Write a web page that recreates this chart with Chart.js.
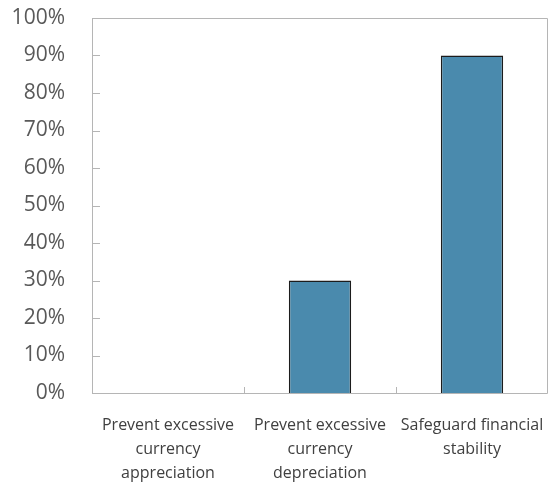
<!DOCTYPE html>
<html lang="en">
<head>
  <meta charset="UTF-8">
  <title>Policy objectives</title>
  <script src="https://cdn.jsdelivr.net/npm/chart.js"></script>
  <style>
    * { margin: 0; padding: 0; box-sizing: border-box; }
    body { background: #fff; width: 549px; height: 482px; overflow: hidden; }
    .wrap { width: 549px; height: 482px; }
  </style>
</head>
<body>
  <div class="wrap"><canvas id="chart" width="549" height="482"></canvas></div>

  <script>
    const categories = [
      ['Prevent excessive', 'currency', 'appreciation'],
      ['Prevent excessive', 'currency', 'depreciation'],
      ['Safeguard financial', 'stability']
    ];
    const shares = [0, 30, 90];
    const yMin = 0, yMax = 100, yStep = 10;

    const axisGrey = '#b5b5b5';

    // box round the plot area plus the short inward tick marks
    const frame = {
      id: 'frame',
      afterDraw(chart) {
        const { ctx, chartArea: a, scales } = chart;
        ctx.save();
        ctx.strokeStyle = axisGrey;
        ctx.lineWidth = 1;
        ctx.beginPath();
        ctx.moveTo(a.left + 0.5, a.bottom + 0.5);
        ctx.lineTo(a.left + 0.5, a.top + 0.5);
        ctx.lineTo(a.right - 0.5, a.top + 0.5);
        ctx.lineTo(a.right - 0.5, a.bottom + 0.5);
        ctx.lineTo(a.left + 0.5, a.bottom + 0.5);
        scales.y.ticks.forEach((t, i) => {
          const y = Math.round(scales.y.getPixelForTick(i)) + 0.5;
          ctx.moveTo(a.left, y);
          ctx.lineTo(a.left + 8, y);
        });
        for (let i = 1; i < categories.length; i++) {
          const x = Math.round((scales.x.getPixelForValue(i - 1) + scales.x.getPixelForValue(i)) / 2) + 0.5;
          ctx.moveTo(x, a.bottom);
          ctx.lineTo(x, a.bottom - 6);
        }
        ctx.stroke();
        ctx.restore();
      }
    };

    new Chart(document.getElementById('chart'), {
      type: 'bar',
      data: {
        labels: categories,
        datasets: [{
          data: shares,
          backgroundColor: '#4a8aad',
          borderColor: '#1c1c1c',
          borderWidth: 1.5,
          borderSkipped: 'bottom',
          barPercentage: 0.41,
          categoryPercentage: 1
        }]
      },
      options: {
        responsive: false,
        animation: false,
        layout: { padding: { top: 18, right: 1, left: 0, bottom: 0 } },
        plugins: { legend: { display: false }, tooltip: { enabled: false } },
        scales: {
          x: {
            grid: { display: false, drawTicks: false },
            border: { display: false },
            ticks: {
              color: '#404040',
              font: { family: 'Open Sans', size: 16, lineHeight: 1.5 },
              padding: 20,
              maxRotation: 0,
              autoSkip: false
            },
            afterFit(s) {
              s.height = 89;
              s.paddingLeft = 0;
              s.paddingRight = 0;
            }
          },
          y: {
            min: yMin,
            max: yMax,
            grid: { display: false, drawTicks: false },
            border: { display: false },
            ticks: {
              stepSize: yStep,
              color: '#595959',
              font: { family: 'Open Sans', size: 21 },
              padding: 27,
              callback: v => v + '%'
            },
            afterFit(s) {
              s.width = 92;
              s.paddingTop = 0;
              s.paddingBottom = 0;
            }
          }
        }
      },
      plugins: [frame]
    });
  </script>
</body>
</html>
